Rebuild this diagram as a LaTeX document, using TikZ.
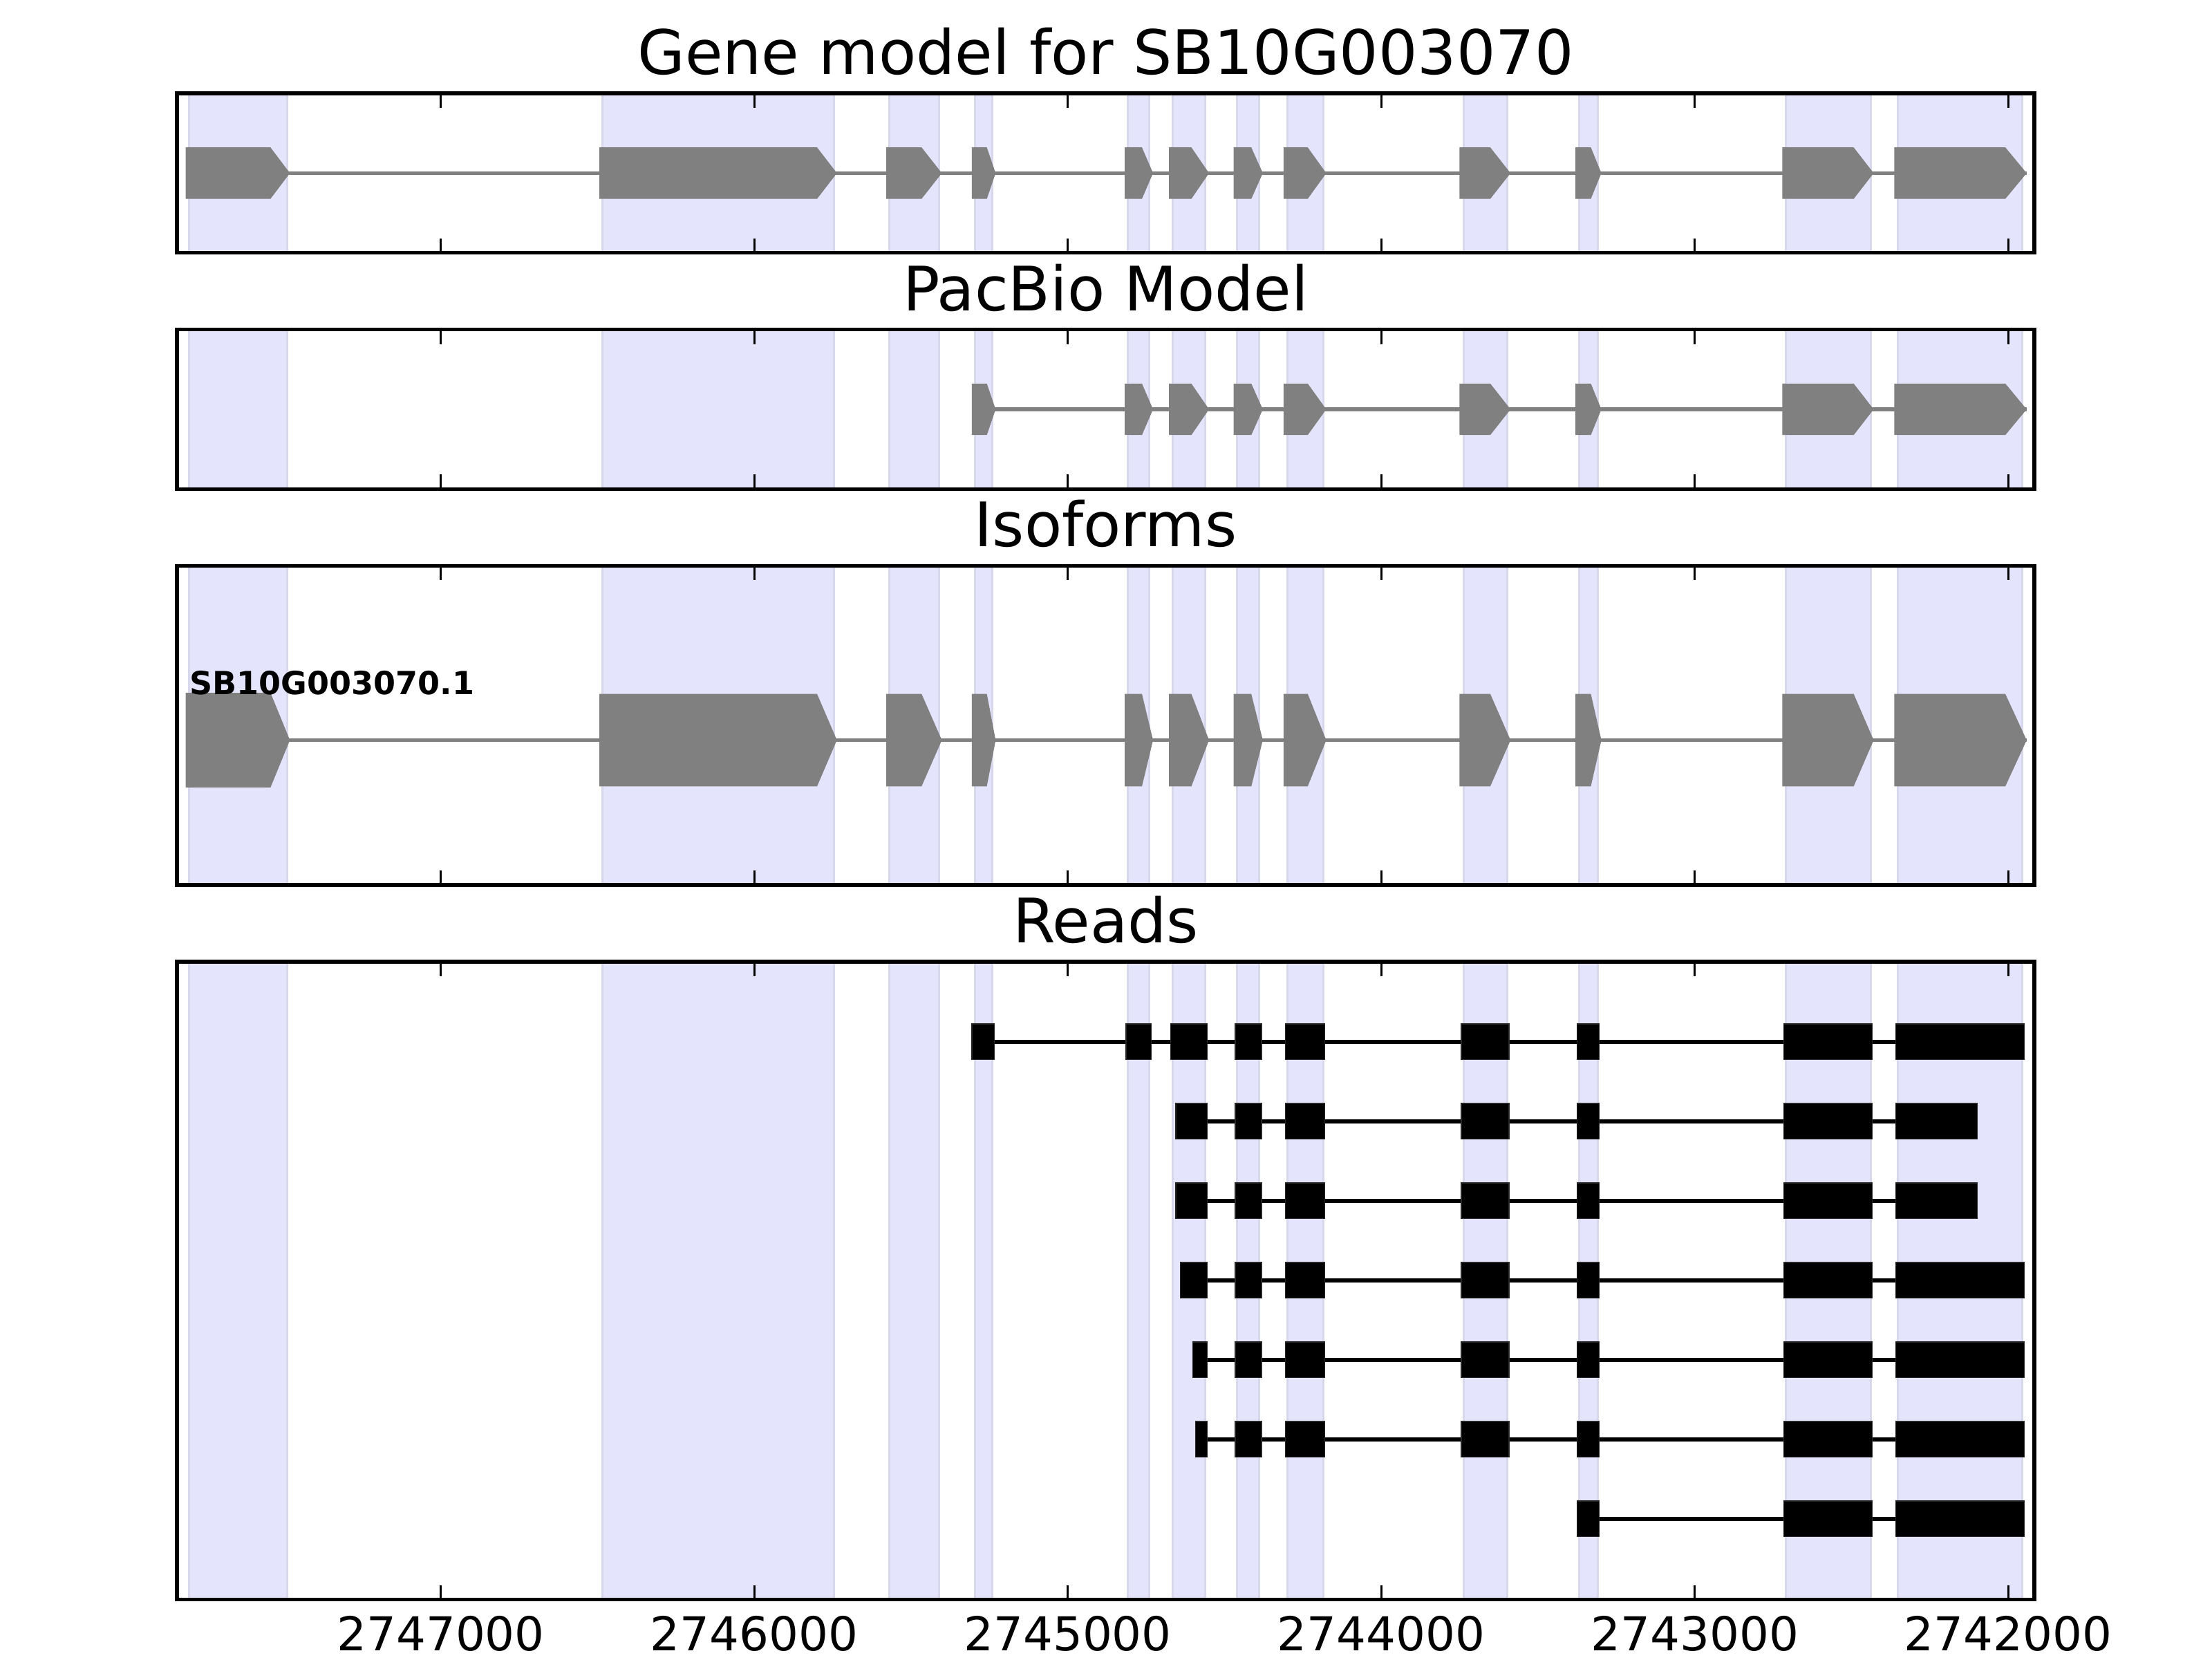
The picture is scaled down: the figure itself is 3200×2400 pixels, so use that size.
\documentclass[tikz,border=0pt]{standalone}
\usepackage{fontspec}
\setmainfont{DejaVu Sans}

\definecolor{spanfill}{RGB}{228,228,252}
\definecolor{spanedge}{RGB}{216,216,236}
\definecolor{exongray}{RGB}{128,128,128}

\tikzset{every picture/.style={line width=0.55pt},
  spanbox/.style={fill=spanfill, draw=spanedge, line width=0.3pt},
  exonfill/.style={fill=exongray},
  grayintron/.style={draw=exongray, line width=0.55pt},
  readblock/.style={fill=black, draw=black!85, line width=0.15pt},
  readintron/.style={draw=black, line width=0.55pt},
  axisframe/.style={draw=black, line width=0.55pt},
  tickmark/.style={draw=black, line width=0.28pt},
  paneltitle/.style={anchor=base, inner sep=0pt, font=\fontsize{8.87}{10}\selectfont},
  ticklabel/.style={anchor=base, inner sep=0pt, font=\fontsize{6.75}{8}\selectfont},
  isolabel/.style={anchor=base west, inner sep=0pt, font=\bfseries\fontsize{4.6}{5}\selectfont}}

% exon arrow: left, box end, tip, centre y, half height
\newcommand{\exonarrow}[5]{\fill[exonfill] (#1,{#4-#5}) -- (#2,{#4-#5}) -- (#3,#4) -- (#2,{#4+#5}) -- (#1,{#4+#5}) -- cycle;}
% read row: centre y, start, end, blocks
\newcommand{\readrow}[4]{%
  \draw[readintron] (#2,#1) -- (#3,#1);
  \foreach \ba/\bb in {#4} {\filldraw[readblock] (\ba,{#1-25.8}) rectangle (\bb,{#1+25.8});}}

\newcommand{\exonsfirst}{268.6/391.3/419.4, 867/1182/1210.7, 1282.2/1333.2/1362.5}
\newcommand{\exonsrest}{1405.9/1427.6/1440.3, 1627.2/1652/1668, 1691/1723.5/1749, 1784.7/1810.2/1826.8, 1856.8/1891.8/1918.6, 2111.2/2155.9/2185.2, 2279/2301.4/2316.6, 2578.3/2681.6/2710.5, 2740.4/2901/2931.8}

\begin{document}
\begin{tikzpicture}[x=0.1pt,y=0.1pt,yscale=-1,xscale=1]
    \useasboundingbox (0,0) rectangle (3200,2400);
    %Shaded exon spans, all panels
    \foreach \ptop/\pbot in {135/365.7, 476.7/707.4, 818.4/1279.8, 1390.8/2313.6}
      \foreach \sa/\sb in {273.5/415.2, 871.9/1206.5, 1286.5/1358.7, 1410.3/1435.8, 1631.6/1662.2, 1696.7/1743.9, 1789.2/1821.7, 1862.5/1914.2, 2117/2180, 2284.9/2311.1, 2583.3/2706.8, 2745/2925}
        {\filldraw[spanbox] (\sa,\ptop) rectangle (\sb,\pbot);}

    %Gene model
    \draw[grayintron] (268.6,250.4) -- (2931.8,250.4);
    \foreach \el/\er/\et in \exonsfirst {\exonarrow{\el}{\er}{\et}{250.4}{37.2}}
    \foreach \el/\er/\et in \exonsrest {\exonarrow{\el}{\er}{\et}{250.4}{37.2}}

    %PacBio model
    \draw[grayintron] (1405.9,592) -- (2931.8,592);
    \foreach \el/\er/\et in \exonsrest {\exonarrow{\el}{\er}{\et}{592}{37.2}}

    %Isoforms
    \draw[grayintron] (268.6,1070.5) -- (2931.8,1070.5);
    \exonarrow{268.6}{391.3}{419.4}{1070.5}{68.5}
    \foreach \el/\er/\et in {867/1182/1210.7, 1282.2/1333.2/1362.5} {\exonarrow{\el}{\er}{\et}{1070.5}{66.8}}
    \foreach \el/\er/\et in \exonsrest {\exonarrow{\el}{\er}{\et}{1070.5}{66.8}}
    \node[isolabel] (isoname) at (272,1004) {SB10G003070.1};

    %Reads
    \readrow{1506.8}{1405.9}{2928.6}{1405.9/1438.4, 1629/1665.4, 1693.5/1746.4, 1787.2/1824.9, 1859.3/1916.7, 2113.8/2182.7, 2281.2/2313.4, 2580.6/2708.2, 2742.2/2928.6}
    \readrow{1621.8}{1701.1}{2860.6}{1701.1/1746.4, 1787.2/1824.9, 1859.3/1916.7, 2113.8/2182.7, 2281.2/2313.4, 2580.6/2708.2, 2742.2/2860.6}
    \readrow{1736.8}{1701.1}{2860.6}{1701.1/1746.4, 1787.2/1824.9, 1859.3/1916.7, 2113.8/2182.7, 2281.2/2313.4, 2580.6/2708.2, 2742.2/2860.6}
    \readrow{1851.8}{1707.3}{2928.6}{1707.3/1746.7, 1787.2/1824.9, 1859.3/1916.7, 2113.8/2182.7, 2281.2/2313.4, 2580.6/2708.2, 2742.2/2928.6}
    \readrow{1966.8}{1725.3}{2928.6}{1725.3/1746.7, 1787.2/1824.9, 1859.3/1916.7, 2113.8/2182.7, 2281.2/2313.4, 2580.6/2708.2, 2742.2/2928.6}
    \readrow{2081.8}{1729.3}{2928.6}{1729.3/1746.7, 1787.2/1824.9, 1859.3/1916.7, 2113.8/2182.7, 2281.2/2313.4, 2580.6/2708.2, 2742.2/2928.6}
    \readrow{2196.8}{2281.2}{2928.6}{2281.2/2313.4, 2580.6/2708.2, 2742.2/2928.6}

    %Frames and ticks
    \foreach \ptop/\pbot in {135/365.7, 476.7/707.4, 818.4/1279.8, 1390.8/2313.6} {
      \draw[axisframe] (256,\ptop) rectangle (2943,\pbot);
      \foreach \tx in {637.6, 1091.1, 1544.6, 1998.2, 2451.7, 2905.2} {
        \draw[tickmark] (\tx,\ptop) -- (\tx,{\ptop+21});
        \draw[tickmark] (\tx,\pbot) -- (\tx,{\pbot-21});
      }
    }

    % Text Node
    \node[paneltitle] (titlegene) at (1599.5,107.3) {Gene model for SB10G003070};
    \node[paneltitle] (titlepacbio) at (1599.5,449.3) {PacBio Model};
    \node[paneltitle] (titleiso) at (1599.5,790.7) {Isoforms};
    \node[paneltitle] (titlereads) at (1599.5,1363.1) {Reads};
    \foreach \tx/\tl in {637.6/2747000, 1091.1/2746000, 1544.6/2745000, 1998.2/2744000, 2451.7/2743000, 2905.2/2742000}
      {\node[ticklabel] (tick\tl) at (\tx,2387.3) {\tl};}
\end{tikzpicture}
\end{document}
